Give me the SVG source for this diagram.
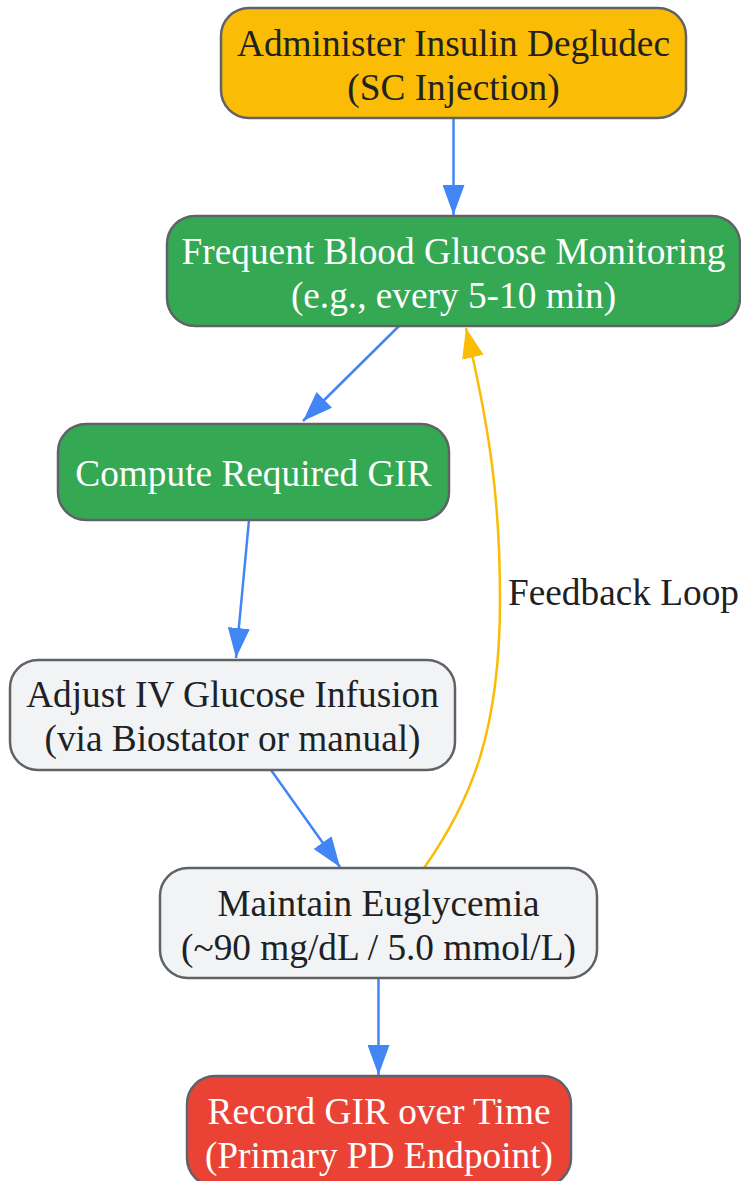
<svg xmlns="http://www.w3.org/2000/svg" width="741" height="1181" viewBox="0 0 741 1181">
<style>
.node rect{stroke:#5F6368;stroke-width:2.5}
.yellow{fill:#FBBC05}.green{fill:#34A853}.red{fill:#EA4335}.gray{fill:#F1F3F4}
text{font-family:"Liberation Serif","Times New Roman",serif;font-size:37.3px;text-anchor:middle}
.dark{fill:#202124}.light{fill:#FFFFFF}
.edge{fill:none;stroke-width:2.5}
.blue{stroke:#4285F4}.fb{stroke:#FBBC05}
</style>
<defs>
<marker id="ab" viewBox="0 0 30 22" refX="30" refY="11" markerWidth="30" markerHeight="22" markerUnits="userSpaceOnUse" orient="auto"><path d="M0,0 L30,11 L0,22 z" fill="#4285F4"/></marker>
<marker id="ay" viewBox="0 0 30 22" refX="30" refY="11" markerWidth="30" markerHeight="22" markerUnits="userSpaceOnUse" orient="auto"><path d="M0,0 L30,11 L0,22 z" fill="#FBBC05"/></marker>
</defs>
<g id="connectors">
<path class="edge blue" d="M453.5,118 L453.5,215" marker-end="url(#ab)"/>
<path class="edge blue" d="M399,326 L303,421" marker-end="url(#ab)"/>
<path class="edge blue" d="M249,520 L236,658" marker-end="url(#ab)"/>
<path class="edge blue" d="M271,770 L340,867" marker-end="url(#ab)"/>
<path class="edge blue" d="M378.5,978 L378.5,1075" marker-end="url(#ab)"/>
<path class="edge fb" d="M424,868 C472,800 500,730 500,600 C500,500 490,430 466,328" marker-end="url(#ay)"/>
<text class="dark" x="508" y="605" style="text-anchor:start">Feedback Loop</text>
</g>
<g id="n1" class="node"><rect class="yellow" x="221" y="8" width="465" height="110" rx="28"/><text class="dark" x="453.5" y="56">Administer Insulin Degludec</text><text class="dark" x="453.5" y="100">(SC Injection)</text></g>
<g id="n2" class="node"><rect class="green" x="167" y="216" width="573" height="110" rx="28"/><text class="light" x="453.5" y="264">Frequent Blood Glucose Monitoring</text><text class="light" x="453.5" y="308">(e.g., every 5-10 min)</text></g>
<g id="n3" class="node"><rect class="green" x="58" y="424" width="391" height="96" rx="28"/><text class="light" x="253.5" y="486">Compute Required GIR</text></g>
<g id="n4" class="node"><rect class="gray" x="10" y="660" width="445" height="110" rx="28"/><text class="dark" x="232.5" y="707">Adjust IV Glucose Infusion</text><text class="dark" x="232.5" y="751">(via Biostator or manual)</text></g>
<g id="n5" class="node"><rect class="gray" x="160" y="868" width="437" height="110" rx="28"/><text class="dark" x="378.5" y="916">Maintain Euglycemia</text><text class="dark" x="378.5" y="960">(~90 mg/dL / 5.0 mmol/L)</text></g>
<g id="n6" class="node"><rect class="red" x="187" y="1076" width="384" height="110" rx="28"/><text class="light" x="379" y="1124">Record GIR over Time</text><text class="light" x="379" y="1168">(Primary PD Endpoint)</text></g>
</svg>
